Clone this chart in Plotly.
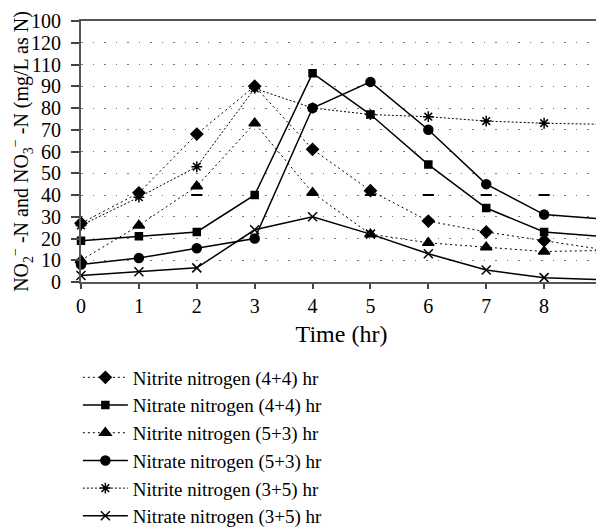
import plotly.graph_objects as go

hours = [0, 1, 2, 3, 4, 5, 6, 7, 8, 9]

nitrite_44 = [27, 41, 68, 90, 61, 42, 28, 23, 19, 15]
nitrate_44 = [19, 21, 23, 40, 96, 77, 54, 34, 23, 21]
nitrite_53 = [10, 26, 44, 73, 41, 22, 18, 16, 14, 14.5]
nitrate_53 = [8, 11, 15.5, 20, 80, 92, 70, 45, 31, 29]
nitrite_35 = [26, 39, 53, 89, 80, 77, 76, 74, 73, 72.5]
nitrate_35 = [3, 4.7, 6.5, 24, 30, 22, 13, 5.5, 2, 1]

# stray dash marks sitting on the 40 gridline in the original
dash_hours = [2, 5, 6, 7, 8, 9]
dash_vals = [40, 40, 40, 40, 40, 40]

y_tickvals = [0, 10, 20, 30, 40, 50, 60, 70, 80, 90, 100, 110, 120]
y_ticktext = ["0", "10", "20", "30", "40", "50", "60", "70", "80", "90", "110", "120", "100"]

FONT = "Liberation Serif, Times New Roman, serif"

series = [
    ("Nitrite nitrogen (4+4) hr", nitrite_44, "diamond", 9, "2px,3px"),
    ("Nitrate nitrogen (4+4) hr", nitrate_44, "square", 7, "solid"),
    ("Nitrite nitrogen (5+3) hr", nitrite_53, "triangle-up", 10, "2px,3px"),
    ("Nitrate nitrogen (5+3) hr", nitrate_53, "circle", 9, "solid"),
    ("Nitrite nitrogen (3+5) hr", nitrite_35, "asterisk-open", 9, "2px,2px"),
    ("Nitrate nitrogen (3+5) hr", nitrate_35, "x-thin-open", 9, "solid"),
]

fig = go.Figure()
for name, vals, sym, size, dash in series:
    fig.add_trace(go.Scatter(
        x=hours, y=vals,
        mode="lines+markers",
        name=name,
        line=dict(color="black", width=1 if dash != "solid" else 1.5, dash=dash),
        marker=dict(symbol=sym, size=size, color="black",
                    line=dict(color="black", width=1.5)),
        cliponaxis=False,
    ))

fig.add_trace(go.Scatter(
    x=dash_hours, y=dash_vals,
    mode="markers",
    marker=dict(symbol="line-ew-open", size=8, color="black",
                line=dict(color="black", width=2)),
    showlegend=False,
    hoverinfo="skip",
    cliponaxis=False,
))

# page body adds an 8px margin, so the figure is sized/offset to compensate
fig.update_layout(
    width=596, height=527,
    margin=dict(l=73, r=2, t=13, b=253, autoexpand=False),
    paper_bgcolor="white",
    plot_bgcolor="white",
    font=dict(family=FONT, size=20, color="black"),
    xaxis=dict(
        range=[0, 9],
        tickvals=hours,
        ticks="outside", ticklen=5, tickwidth=1.5, tickcolor="#444",
        ticklabeloverflow="allow",
        showline=True, linecolor="#555", linewidth=2, mirror=True,
        showgrid=False, zeroline=False, automargin=False,
        title=dict(text="Time (hr)", standoff=9),
    ),
    yaxis=dict(
        range=[0, 120],
        tickvals=y_tickvals, ticktext=y_ticktext,
        ticks="outside", ticklen=8, tickwidth=1.5, tickcolor="#444",
        ticklabelstandoff=6,
        showline=True, linecolor="#555", linewidth=2, mirror=True,
        showgrid=True, gridcolor="#777", gridwidth=1, griddash="1.5px,10px",
        zeroline=False, automargin=False,
        title=dict(
            text="NO<sub>2</sub><sup>−</sup> -N and NO<sub>3</sub><sup>−</sup> -N (mg/L as N)",
            font=dict(size=20),
            standoff=2,
        ),
    ),
    legend=dict(
        x=-0.006, xanchor="left",
        y=-0.293, yanchor="top",
        font=dict(family=FONT, size=19),
        itemwidth=45,
        bgcolor="rgba(0,0,0,0)",
    ),
    showlegend=True,
)

fig.write_html("out.html")
